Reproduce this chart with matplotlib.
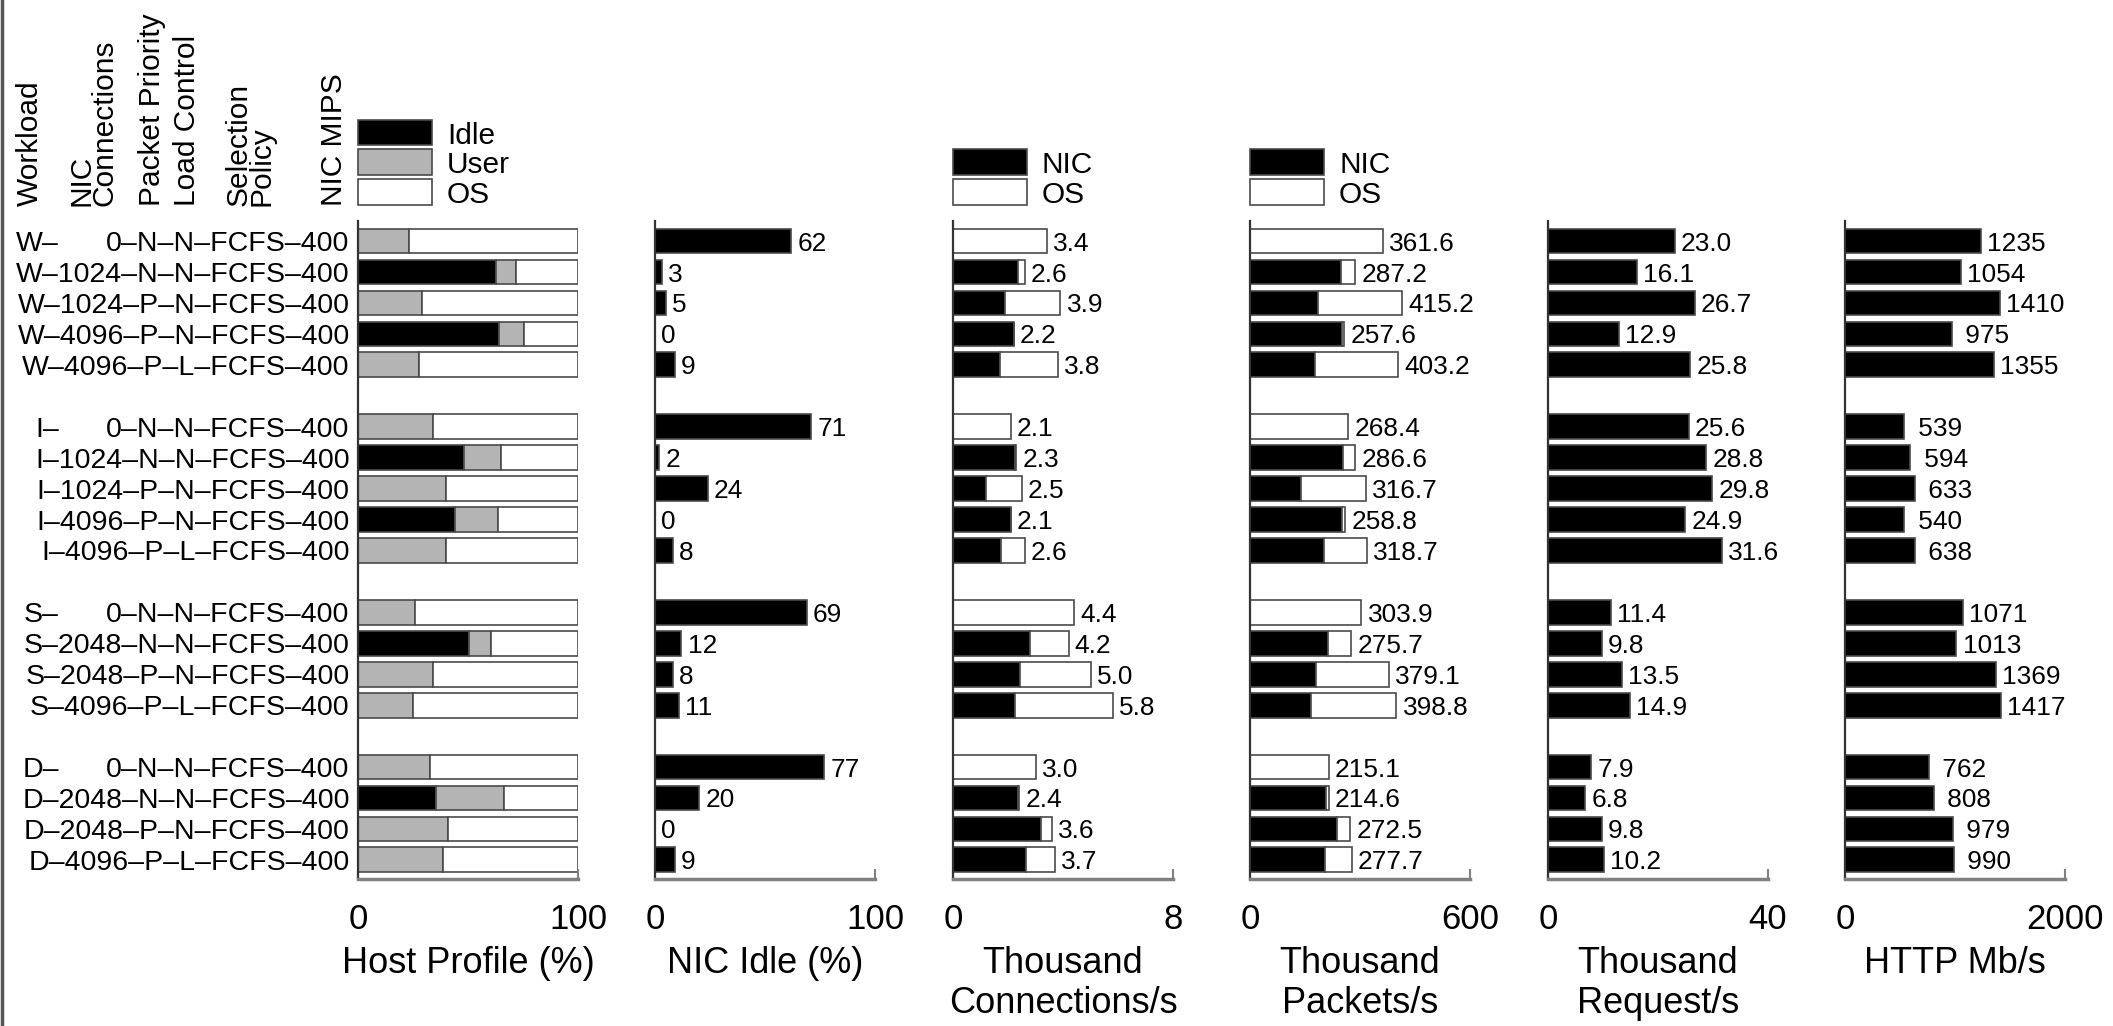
import matplotlib
matplotlib.use("Agg")
import matplotlib.pyplot as plt
from matplotlib import font_manager
from matplotlib.patches import Rectangle
from matplotlib.lines import Line2D

W_PX, H_PX = 2113, 1026

names = {f.name for f in font_manager.fontManager.ttflist}
NARROW = "Liberation Sans Narrow" in names
FONT = "Liberation Sans"
SMALL = "Liberation Sans Narrow" if NARROW else FONT
K = 1.0 if NARROW else 0.82
plt.rcParams["font.family"] = [FONT, "DejaVu Sans"]

# ---- data ----
labels = [
    "W–0–N–N–FCFS–400", "W–1024–N–N–FCFS–400", "W–1024–P–N–FCFS–400",
    "W–4096–P–N–FCFS–400", "W–4096–P–L–FCFS–400",
    "I–0–N–N–FCFS–400", "I–1024–N–N–FCFS–400", "I–1024–P–N–FCFS–400",
    "I–4096–P–N–FCFS–400", "I–4096–P–L–FCFS–400",
    "S–0–N–N–FCFS–400", "S–2048–N–N–FCFS–400", "S–2048–P–N–FCFS–400",
    "S–4096–P–L–FCFS–400",
    "D–0–N–N–FCFS–400", "D–2048–N–N–FCFS–400", "D–2048–P–N–FCFS–400",
    "D–4096–P–L–FCFS–400",
]
group_sizes = [5, 5, 4, 4]

host_idle = [0, 62.5, 0, 64, 0, 0, 48, 0, 44, 0, 0, 50.5, 0, 0, 0, 35.5, 0, 0]
host_user = [23, 9.5, 29, 11.5, 27.5, 34, 17, 40, 19.5, 40, 26, 10, 34, 25, 32.5, 31, 41, 38.5]
nic_idle = [62, 3, 5, 0, 9, 71, 2, 24, 0, 8, 69, 12, 8, 11, 77, 20, 0, 9]
conn_nic = [0, 2.35, 1.9, 2.2, 1.7, 0, 2.25, 1.2, 2.1, 1.75, 0, 2.8, 2.45, 2.25, 0, 2.35, 3.2, 2.65]
conn_total = [3.4, 2.6, 3.9, 2.2, 3.8, 2.1, 2.3, 2.5, 2.1, 2.6, 4.4, 4.2, 5.0, 5.8, 3.0, 2.4, 3.6, 3.7]
pkt_nic = [0, 248, 185, 250, 177, 0, 254, 138, 251, 203, 0, 212, 181, 166, 0, 207, 237, 204]
pkt_total = [361.6, 287.2, 415.2, 257.6, 403.2, 268.4, 286.6, 316.7, 258.8, 318.7,
             303.9, 275.7, 379.1, 398.8, 215.1, 214.6, 272.5, 277.7]
requests = [23.0, 16.1, 26.7, 12.9, 25.8, 25.6, 28.8, 29.8, 24.9, 31.6,
            11.4, 9.8, 13.5, 14.9, 7.9, 6.8, 9.8, 10.2]
http = [1235, 1054, 1410, 975, 1355, 539, 594, 633, 540, 638,
        1071, 1013, 1369, 1417, 762, 808, 979, 990]

headers = ["Workload", "NIC\nConnections", "Packet Priority", "Load Control",
           "Selection\nPolicy", "NIC MIPS"]
header_x = [30, 93, 152, 187, 250, 334]
xlabels = ["Host Profile (%)", "NIC Idle (%)", "Thousand\nConnections/s",
           "Thousand\nPackets/s", "Thousand\nRequest/s", "HTTP Mb/s"]
xmaxes = [100, 100, 8, 600, 40, 2000]

# row positions with a blank slot after each group
ypos = []
p = 0
for g in group_sizes:
    for _ in range(g):
        ypos.append(p)
        p += 1
    p += 1

EC = "#4a4a4a"
GRAY = "#b4b4b4"
BH = 0.8
panel_x = [358, 655, 953, 1250, 1548, 1845]
PW, TOP, BOT = 220, 221, 879


def fx(x):
    return x / W_PX


def fy(y):
    return 1 - y / H_PX


fig = plt.figure(figsize=(W_PX / 100, H_PX / 100), dpi=100)


def make_ax(i):
    ax = fig.add_axes([fx(panel_x[i]), fy(BOT), PW / W_PX, (BOT - TOP) / H_PX])
    xm = xmaxes[i]
    ax.set_xlim(0, xm)
    ax.set_ylim(20.62, -0.65)
    ax.spines["top"].set_visible(False)
    ax.spines["right"].set_visible(False)
    ax.spines["left"].set_color("#333333")
    ax.spines["left"].set_linewidth(1.6)
    ax.spines["bottom"].set_color("#808080")
    ax.spines["bottom"].set_linewidth(2.5)
    ax.set_yticks([])
    ax.set_xticks([0, xm])
    ax.set_xticklabels(["0", str(xm)])
    ax.tick_params(axis="x", direction="in", length=7, width=1.5, color="#808080",
                   pad=17, labelsize=25)
    ax.patch.set_visible(False)
    fig.text(fx(panel_x[i] + PW / 2), fy(946), xlabels[i], ha="center", va="top",
             fontsize=26, linespacing=1.2)
    return ax


def value_labels(ax, ends, texts):
    for y, e, t in zip(ypos, ends, texts):
        ax.annotate(t, xy=(e, y), xytext=(4.5, 0), textcoords="offset points",
                    ha="left", va="center_baseline", fontsize=23 * K, family=SMALL)


bar_kw = dict(height=BH, edgecolor=EC, linewidth=1.2)

# panel 1: host profile
ax1 = make_ax(0)
left_user = host_idle
left_os = [a + b for a, b in zip(host_idle, host_user)]
host_os = [100 - v for v in left_os]
ax1.barh(ypos, host_idle, color="black", **bar_kw)
ax1.barh(ypos, host_user, left=left_user, color=GRAY, **bar_kw)
ax1.barh(ypos, host_os, left=left_os, color="white", **bar_kw)

# panel 2: NIC idle
ax2 = make_ax(1)
ax2.barh(ypos, nic_idle, color="black", **bar_kw)
value_labels(ax2, nic_idle, [f"{v:d}" for v in nic_idle])

# panel 3: connections
ax3 = make_ax(2)
ax3.barh(ypos, conn_nic, color="black", **bar_kw)
ax3.barh(ypos, [t - n for t, n in zip(conn_total, conn_nic)], left=conn_nic,
         color="white", **bar_kw)
value_labels(ax3, conn_total, [f"{v:.1f}" for v in conn_total])

# panel 4: packets
ax4 = make_ax(3)
ax4.barh(ypos, pkt_nic, color="black", **bar_kw)
ax4.barh(ypos, [t - n for t, n in zip(pkt_total, pkt_nic)], left=pkt_nic,
         color="white", **bar_kw)
value_labels(ax4, pkt_total, [f"{v:.1f}" for v in pkt_total])

# panel 5: requests
ax5 = make_ax(4)
ax5.barh(ypos, requests, color="black", **bar_kw)
value_labels(ax5, requests, [f"{v:.1f}" for v in requests])

# panel 6: http
ax6 = make_ax(5)
ax6.barh(ypos, http, color="black", **bar_kw)
value_labels(ax6, http, [f"{v:4d}" for v in http])

# row labels
row_texts = []
for y, lab in zip(ypos, labels):
    pre, rest = lab.split("–", 1)
    txt = rest if rest.startswith("0–") else lab
    t = ax1.annotate(txt, xy=(0, y), xycoords=("axes fraction", "data"),
                     xytext=(-6, 0), textcoords="offset points", ha="right",
                     va="center_baseline", fontsize=25 * K, family=SMALL)
    row_texts.append(t)

fig.canvas.draw()
renderer = fig.canvas.get_renderer()
for i, (y, lab) in enumerate(zip(ypos, labels)):
    pre, rest = lab.split("–", 1)
    if rest.startswith("0–"):
        x0 = row_texts[i + 1].get_window_extent(renderer).x0
        ax1.annotate(pre + "–", xy=(x0, y), xycoords=("figure pixels", "data"),
                     ha="left", va="center_baseline", fontsize=25 * K, family=SMALL)

# column headers
for h, x in zip(headers, header_x):
    fig.text(fx(x), fy(206), h, rotation=90, ha="center", va="bottom",
             multialignment="left", fontsize=21.5, linespacing=0.75)


def legend(x, ys, items):
    for (lab, col), y in zip(items, ys):
        fig.add_artist(Rectangle((fx(x), fy(y + 12.5)), 74 / W_PX, 25 / H_PX,
                                 transform=fig.transFigure, facecolor=col,
                                 edgecolor=EC, linewidth=1.2))
        fig.text(fx(x + 89), fy(y), lab, va="center_baseline", fontsize=21.5)


legend(panel_x[0], [132.5, 162, 192], [("Idle", "black"), ("User", GRAY), ("OS", "white")])
legend(panel_x[2], [162, 192], [("NIC", "black"), ("OS", "white")])
legend(panel_x[3], [162, 192], [("NIC", "black"), ("OS", "white")])

fig.add_artist(Line2D([fx(2), fx(2)], [0, 1], transform=fig.transFigure,
                      color="#555555", linewidth=2.5))

fig.savefig("out.png", dpi=100)
